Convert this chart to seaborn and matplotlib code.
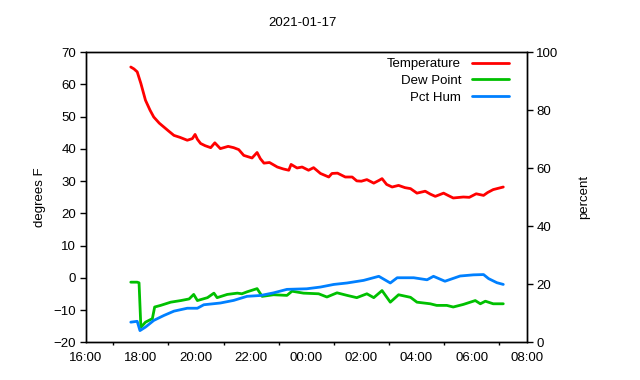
import matplotlib
matplotlib.use("Agg")
import matplotlib.pyplot as plt
import matplotlib.dates as mdates
import seaborn as sns
import pandas as pd

title = "2021-01-17"

temp_times = ["17:38", "17:45", "17:52", "18:00", "18:10", "18:20", "18:28", "18:40", "18:50",
              "19:00", "19:12", "19:25", "19:41", "19:52", "19:58", "20:03", "20:10", "20:20",
              "20:32", "20:41", "20:53", "21:10", "21:22", "21:33", "21:44", "22:02", "22:13",
              "22:20", "22:28", "22:40", "22:57", "23:10", "23:22", "23:27", "23:40", "23:51",
              "00:05", "00:16", "00:31", "00:49", "00:56", "01:08", "01:25", "01:40", "01:50",
              "02:00", "02:12", "02:27", "02:39", "02:45", "02:55", "03:07", "03:21", "03:35",
              "03:47", "04:01", "04:19", "04:30", "04:41", "04:59", "05:10", "05:20", "05:42",
              "05:55", "06:10", "06:26", "06:35", "06:47", "06:58", "07:09"]
temp_values = [65.4, 64.8, 63.9, 60.3, 55.1, 52.0, 49.9, 48.0, 46.8,
               45.6, 44.2, 43.6, 42.7, 43.2, 44.5, 43.0, 41.7, 41.0,
               40.4, 41.9, 40.1, 40.8, 40.4, 39.8, 38.0, 37.2, 38.9,
               37.0, 35.6, 35.8, 34.4, 33.8, 33.4, 35.2, 34.1, 34.4,
               33.4, 34.2, 32.4, 31.3, 32.4, 32.5, 31.3, 31.3, 30.1,
               30.0, 30.5, 29.4, 30.3, 30.8, 29.0, 28.2, 28.7, 28.0,
               27.7, 26.3, 26.9, 26.0, 25.3, 26.3, 25.5, 24.8, 25.1,
               25.0, 26.1, 25.6, 26.5, 27.4, 27.8, 28.2]

dew_times = ["17:38", "17:52", "17:56", "18:00", "18:10", "18:25", "18:30", "18:43", "19:05",
             "19:27", "19:45", "19:55", "20:03", "20:25", "20:39", "20:46", "21:08", "21:30",
             "21:40", "21:51", "22:13", "22:24", "22:49", "23:18", "23:29", "23:54", "00:27",
             "00:45", "01:07", "01:29", "01:50", "02:12", "02:27", "02:45", "03:03", "03:21",
             "03:47", "04:01", "04:30", "04:44", "05:06", "05:20", "05:42", "06:08", "06:19",
             "06:30", "06:47", "07:09"]
dew_values = [-1.3, -1.3, -1.5, -15.3, -13.7, -12.6, -9.0, -8.5, -7.5,
              -7.0, -6.5, -5.1, -7.0, -6.1, -4.7, -6.1, -5.1, -4.7,
              -4.9, -4.3, -3.3, -5.7, -5.2, -5.4, -4.1, -4.7, -4.9,
              -5.9, -4.6, -5.4, -6.1, -4.9, -6.1, -3.9, -7.5, -5.2,
              -6.0, -7.5, -8.0, -8.5, -8.5, -9.0, -8.2, -7.0, -8.0,
              -7.2, -8.0, -8.0]

hum_times = ["17:38", "17:52", "17:58", "18:10", "18:28", "18:50", "19:12", "19:41", "20:03",
             "20:17", "20:53", "21:22", "21:51", "22:21", "22:49", "23:18", "00:01", "00:31",
             "01:00", "01:29", "02:05", "02:38", "03:03", "03:18", "03:54", "04:23", "04:37",
             "05:02", "05:35", "06:04", "06:26", "06:37", "06:55", "07:09"]
hum_values = [7.0, 7.3, 4.1, 5.3, 7.6, 9.3, 10.8, 11.8, 11.8,
              13.0, 13.6, 14.5, 15.9, 16.2, 17.1, 18.3, 18.5, 19.1,
              20.0, 20.5, 21.4, 22.8, 20.5, 22.3, 22.3, 21.6, 22.8,
              21.1, 22.9, 23.3, 23.4, 22.0, 20.6, 20.0]

left_ticks = [-20, -10, 0, 10, 20, 30, 40, 50, 60, 70]
right_ticks = [0, 20, 40, 60, 80, 100]


def to_dt(times):
    out = []
    for t in times:
        h, m = map(int, t.split(":"))
        day = 17 if h >= 12 else 18
        out.append(pd.Timestamp(2021, 1, day, h, m))
    return out


temp_df = pd.DataFrame({"time": to_dt(temp_times), "value": temp_values})
dew_df = pd.DataFrame({"time": to_dt(dew_times), "value": dew_values})
hum_df = pd.DataFrame({"time": to_dt(hum_times), "value": hum_values})

sns.set_theme(style="white")
plt.rcParams["font.family"] = ["Liberation Sans", "DejaVu Sans"]
plt.rcParams["text.color"] = "black"
plt.rcParams["axes.labelcolor"] = "black"
plt.rcParams["xtick.color"] = "black"
plt.rcParams["ytick.color"] = "black"
plt.rcParams["axes.edgecolor"] = "black"

fig = plt.figure(figsize=(6.4, 3.8), dpi=100)
ax = fig.add_axes([0.134, 0.0987, 0.689, 0.764])
ax2 = ax.twinx()

sns.lineplot(data=temp_df, x="time", y="value", ax=ax, color="#ff0000", linewidth=2, label="Temperature", legend=False)
sns.lineplot(data=dew_df, x="time", y="value", ax=ax, color="#00c000", linewidth=2, label="Dew Point", legend=False)
sns.lineplot(data=hum_df, x="time", y="value", ax=ax2, color="#0080ff", linewidth=2, label="Pct Hum", legend=False)

ax.set_xlim(pd.Timestamp(2021, 1, 17, 16, 0), pd.Timestamp(2021, 1, 18, 8, 0))
ax.set_ylim(-20, 70)
ax2.set_ylim(0, 100)
ax.set_yticks(left_ticks)
ax2.set_yticks(right_ticks)
ax.xaxis.set_major_locator(mdates.HourLocator(byhour=range(0, 24, 2)))
ax.xaxis.set_minor_locator(mdates.HourLocator())
ax.xaxis.set_major_formatter(mdates.DateFormatter("%H:%M"))

ax.set_xlabel("")
ax.set_ylabel("degrees F", fontsize=9.5, labelpad=5)
ax2.set_ylabel("percent", fontsize=9.5, labelpad=14)
fig.suptitle(title, x=0.472, y=0.955, fontsize=9.5)

for a in (ax, ax2):
    a.tick_params(axis="both", which="major", labelsize=9.5, length=4, width=1, direction="out", pad=3)
    a.tick_params(axis="x", which="minor", length=2, width=1, direction="out", bottom=True)
    for s in a.spines.values():
        s.set_linewidth(1)
        s.set_color("black")

h1, l1 = ax.get_legend_handles_labels()
h2, l2 = ax2.get_legend_handles_labels()
ax2.legend(h1 + h2, l1 + l2, loc="upper right", frameon=False, markerfirst=False,
           fontsize=9.5, handlelength=2.8, handletextpad=0.8, labelspacing=0.35,
           borderaxespad=0.3, bbox_to_anchor=(0.98, 1.012))

fig.savefig("out.png", dpi=100)
